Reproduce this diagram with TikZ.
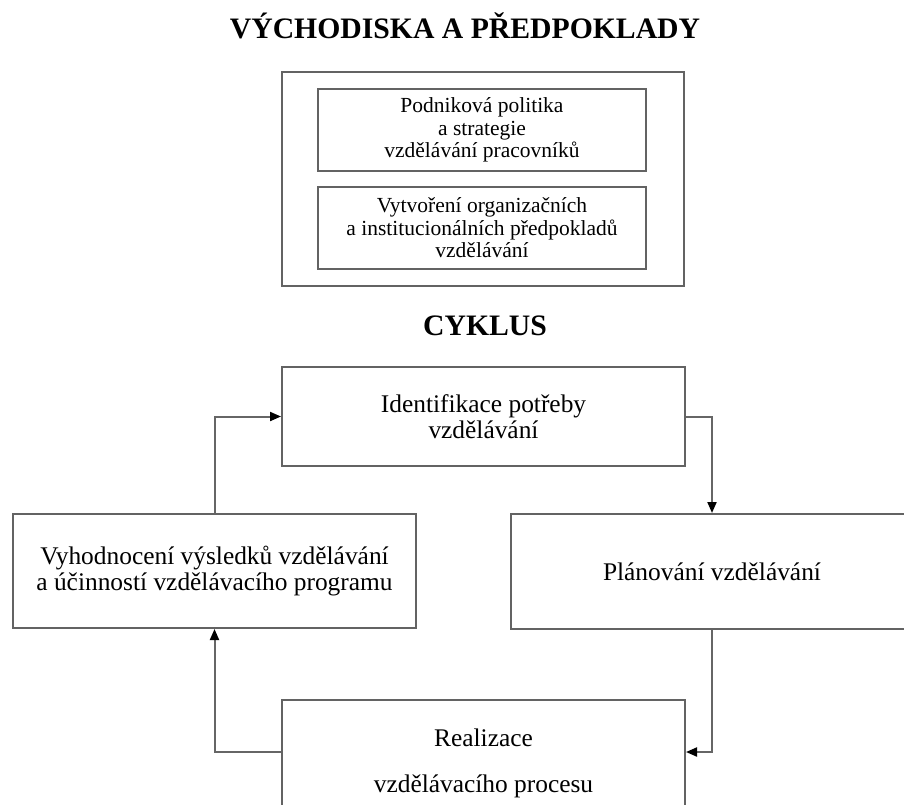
\documentclass[tikz,border=0pt]{standalone}
\usepackage{fontspec}
\setmainfont{Liberation Serif}
\usetikzlibrary{arrows.meta}
\definecolor{boxgray}{HTML}{636363}
\definecolor{linegray}{HTML}{666666}
\begin{document}
\begin{tikzpicture}[x=1pt,y=-1pt,
  box/.style={draw=boxgray, line width=2pt, rectangle, inner sep=0pt, align=center, text=black},
  smalltext/.style={font=\fontsize{21.5}{22.5}\selectfont},
  bigtext/.style={font=\fontsize{25.4}{26}\selectfont},
  heading/.style={font=\fontsize{29.7}{32}\selectfont\bfseries, inner sep=0pt, anchor=base},
  plain/.style={font=\fontsize{25.4}{25.5}\selectfont, inner sep=0pt, anchor=base},
  conn/.style={draw=linegray, line width=2pt, -{Triangle[length=11pt,width=9pt,color=black]}}]
\useasboundingbox (0,0) rectangle (904,805);
\clip (0,0) rectangle (904,805);
\fill[white] (0,0) rectangle (904,805);

\node[heading] (t1) at (465,39) {VÝCHODISKA A PŘEDPOKLADY};
\node[box, minimum width=402pt, minimum height=214pt] (outer) at (483,179) {};
\node[box, smalltext, minimum width=328pt, minimum height=82pt] (in1) at (482,130)
  {Podniková politika\\a strategie\\vzdělávání pracovníků};
\node[box, smalltext, minimum width=328pt, minimum height=82pt] (in2) at (482,228)
  {Vytvoření organizačních\\a institucionálních předpokladů\\vzdělávání};

\node[heading] (t2) at (485,335) {CYKLUS};

\node[box, bigtext, minimum width=403pt, minimum height=99pt] (ident) at (483.5,416.5)
  {Identifikace potřeby\\vzdělávání};
\node[box, bigtext, minimum width=403pt, minimum height=114pt] (lbox) at (214.5,571)
  {Vyhodnocení výsledků vzdělávání\\a účinností vzdělávacího programu};
\node[box, bigtext, minimum width=402pt, minimum height=115pt] (plan) at (712,571.5)
  {Plánování vzdělávání};
\node[box, minimum width=403pt, minimum height=130pt] (real) at (483.5,765) {};
\node[plain] (realA) at (483.5,746) {Realizace};
\node[plain] (realB) at (483.5,792) {vzdělávacího procesu};

\draw[conn] (lbox.north) |- (ident.west);
\draw[conn] (ident.east) -| (plan.north);
\draw[conn] (plan.south) |- ([yshift=13pt]real.east);
\draw[conn] ([yshift=13pt]real.west) -| (lbox.south);
\end{tikzpicture}
\end{document}
